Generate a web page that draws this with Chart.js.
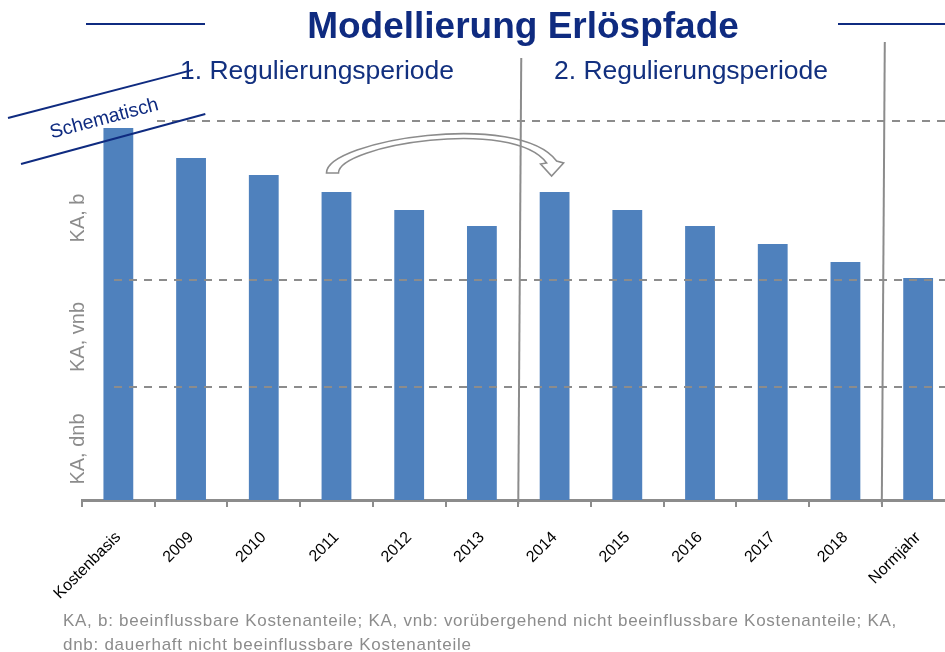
<!DOCTYPE html>
<html>
<head>
<meta charset="utf-8">
<script src="https://cdn.jsdelivr.net/npm/chart.js@4"></script>
<style>
  body { margin: 0; background: #fff; }
  #wrap { position: relative; width: 945px; height: 652px; overflow: hidden; font-family: 'Liberation Sans', Arial, sans-serif; }
  #chartBox { position: absolute; left: 0; top: 0; width: 960px; height: 652px; }
  .txt { position: absolute; white-space: nowrap; line-height: 1; }
  .title { left: 523px; top: 7px; transform: translateX(-50%); font-size: 37px; font-weight: bold; color: #0f2b80; }
  .hline { position: absolute; height: 2px; background: #0f2b80; }
  .period { top: 57px; font-size: 26.5px; color: #12307f; }
  .ylab { font-size: 20px; color: #8c8c8c; transform: translate(-50%, -50%) rotate(-90deg); }
  .note { left: 63px; top: 609px; font-size: 17px; line-height: 24px; letter-spacing: 0.72px; color: #8c8c8c; }
  .banner { position: absolute; height: 2px; background: #0f2b80; transform-origin: 0 50%; }
  .schem { left: 104px; top: 118px; font-size: 19.5px; color: #0f2b80; transform: translate(-50%, -50%) rotate(-15deg); }
</style>
</head>
<body>
<div id="wrap">
  <div id="chartBox"><canvas id="mainChart" width="960" height="652"></canvas></div>

  <div class="hline" style="left:86px; top:23px; width:119px;"></div>
  <div class="hline" style="left:838px; top:23px; width:110px;"></div>
  <div class="txt title">Modellierung Erlöspfade</div>

  <div class="txt period" style="left:180px;">1. Regulierungsperiode</div>
  <div class="txt period" style="left:554px;">2. Regulierungsperiode</div>

  <div class="txt ylab" style="left:77px; top:218px;">KA, b</div>
  <div class="txt ylab" style="left:77px; top:337px;">KA, vnb</div>
  <div class="txt ylab" style="left:77px; top:449px;">KA, dnb</div>

  <div class="banner" style="left:8px; top:117px; width:191px; transform: rotate(-14.6deg);"></div>
  <div class="banner" style="left:21px; top:163px; width:191px; transform: rotate(-15.2deg);"></div>
  <div class="txt schem">Schematisch</div>

  <div class="txt note">KA, b: beeinflussbare Kostenanteile; KA, vnb: vorübergehend nicht beeinflussbare Kostenanteile; KA,<br>dnb: dauerhaft nicht beeinflussbare Kostenanteile</div>
</div>

<script>
// categories and bar heights (arbitrary units)
const categories = ['Kostenbasis', '2009', '2010', '2011', '2012', '2013', '2014', '2015', '2016', '2017', '2018', 'Normjahr'];
const revenue = [372, 342, 325, 308, 290, 274, 308, 290, 274, 256, 238, 222];
// borders between KA, b / KA, vnb / KA, dnb
const levels = [379, 220, 113];
// period borders sit between these category indexes
const periodBreaks = [[5, 6], [10, 11]];
// arrow goes from 2011 to 2014
const arrowFrom = 3;
const arrowTo = 6;

const grey = '#8c8c8c';

const overlay = {
    id: 'overlay',
    afterDatasetsDraw(chart) {
        const { ctx, scales: { x, y } } = chart;
        ctx.save();

        // dashed level lines
        ctx.strokeStyle = grey;
        ctx.lineWidth = 2;
        ctx.setLineDash([8, 7]);
        levels.forEach((v, i) => {
            const py = Math.round(y.getPixelForValue(v));
            ctx.beginPath();
            ctx.moveTo(i === 0 ? 157 : 114, py);
            ctx.lineTo(chart.width, py);
            ctx.stroke();
        });
        ctx.setLineDash([]);

        // hollow curved arrow
        const ax = x.getPixelForValue(arrowFrom), ay = y.getPixelForValue(revenue[arrowFrom]);
        const bx = x.getPixelForValue(arrowTo), by = y.getPixelForValue(revenue[arrowTo]);
        ctx.beginPath();
        ctx.moveTo(ax - 10, ay - 19);
        ctx.bezierCurveTo(ax - 10, ay - 52, bx - 36, ay - 82, bx + 2, by - 31);
        ctx.lineTo(bx + 9, by - 29);
        ctx.lineTo(bx - 3, by - 16);
        ctx.lineTo(bx - 14, by - 28);
        ctx.lineTo(bx - 8, by - 29);
        ctx.bezierCurveTo(bx - 41, ay - 75, ax + 2, ay - 47, ax + 2, ay - 19);
        ctx.closePath();
        ctx.fillStyle = '#fff';
        ctx.fill();
        ctx.lineWidth = 1.6;
        ctx.strokeStyle = grey;
        ctx.stroke();

        // period separators
        ctx.lineWidth = 2;
        periodBreaks.forEach(([a, b], i) => {
            const px = (x.getPixelForValue(a) + x.getPixelForValue(b)) / 2;
            ctx.beginPath();
            ctx.moveTo(px + 3, i === 0 ? 58 : 42);
            ctx.lineTo(px, y.getPixelForValue(0) + 4);
            ctx.stroke();
        });
        ctx.restore();
    }
};

new Chart(document.getElementById('mainChart').getContext('2d'), {
    type: 'bar',
    data: {
        labels: categories,
        datasets: [{
            data: revenue,
            backgroundColor: '#4f81bd',
            borderWidth: 0,
            barPercentage: 0.41,
            categoryPercentage: 1
        }]
    },
    options: {
        responsive: false,
        animation: false,
        layout: { padding: { left: 82, right: 5.5, top: 100, bottom: 0 } },
        plugins: {
            legend: { display: false },
            tooltip: { enabled: false }
        },
        scales: {
            y: { display: false, min: 0, max: 400 },
            x: {
                afterFit: s => { s.height = 152; },
                grid: {
                    offset: true,
                    drawOnChartArea: false,
                    drawTicks: true,
                    tickLength: 7,
                    color: grey,
                    lineWidth: 2
                },
                border: { display: true, color: grey, width: 3 },
                ticks: {
                    minRotation: 45,
                    maxRotation: 45,
                    padding: 21,
                    color: '#000',
                    font: { family: "'Liberation Sans', Arial, sans-serif", size: 16 }
                }
            }
        }
    },
    plugins: [overlay]
});
</script>
</body>
</html>
